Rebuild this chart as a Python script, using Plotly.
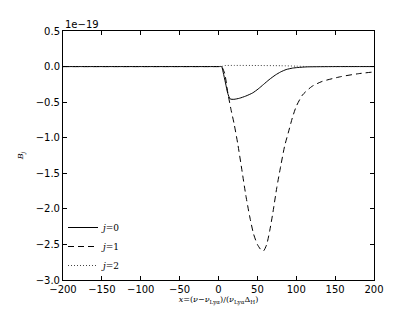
import plotly.graph_objects as go

# values in units of 1e-19
x_j0 = [-200, 0, 4, 6, 9, 12, 15, 20, 27, 35, 44, 51, 58, 65, 73, 80, 87, 95, 102, 114, 150, 200]
b_j0 = [0, 0, 0, -0.08, -0.23, -0.38, -0.455, -0.46, -0.445, -0.415, -0.37, -0.315, -0.25, -0.185,
        -0.12, -0.075, -0.042, -0.022, -0.013, -0.004, 0, 0]

x_j1 = [-200, 0, 4, 8, 12, 16, 20, 25, 30, 35, 40, 45, 50, 55, 58, 62, 66, 70, 75, 80, 85, 90, 95,
        100, 108, 120, 133, 158, 180, 200]
b_j1 = [0, 0, 0, -0.1, -0.37, -0.6, -0.8, -1.1, -1.45, -1.8, -2.1, -2.35, -2.5, -2.58, -2.59, -2.5,
        -2.3, -2.05, -1.7, -1.4, -1.12, -0.92, -0.72, -0.56, -0.4, -0.28, -0.21, -0.14, -0.1, -0.075]

x_j2 = [-200, 0, 4, 8, 20, 50, 80, 100, 115, 200]
b_j2 = [0, 0, 0, 0.014, 0.016, 0.015, 0.012, 0.006, 0, 0]

labels = ["<i>j</i>=0", "<i>j</i>=1", "<i>j</i>=2"]
yticks = [0.5, 0.0, -0.5, -1.0, -1.5, -2.0, -2.5, -3.0]
xticks = [-200, -150, -100, -50, 0, 50, 100, 150, 200]

fig = go.Figure()
for xs, ys, lab, dash, col in [(x_j0, b_j0, labels[0], "solid", "black"),
                               (x_j1, b_j1, labels[1], "6px,4px", "black"),
                               (x_j2, b_j2, labels[2], "1px,2px", "#444444")]:
    fig.add_trace(go.Scatter(x=xs, y=ys, mode="lines", name=lab,
                             line=dict(color=col, width=1, dash=dash, shape="spline", smoothing=0.6)))

def fmt(v):
    s = f"{v:.1f}"
    return s.replace("-", "−")

axis_common = dict(showline=True, linecolor="black", linewidth=1, mirror="ticks",
                   ticks="inside", ticklen=4, tickcolor="black", showgrid=False,
                   zeroline=False, tickfont=dict(family="DejaVu Sans", size=10, color="black"))

# the page body has an 8px margin, so the plot margins are shifted to compensate
fig.update_layout(
    width=415, height=312,
    margin=dict(l=44, r=49, t=23, b=40),
    paper_bgcolor="white", plot_bgcolor="white",
    xaxis=dict(range=[-200, 200], tickvals=xticks,
               ticktext=[str(v).replace("-", "−") for v in xticks],
               title=dict(text="<i>x</i>=(<i>ν</i>−<i>ν</i><sub>Lyα</sub>)/(<i>ν</i><sub>Lyα</sub>Δ<sub>H</sub>)",
                          font=dict(family="DejaVu Serif", size=8, color="black"), standoff=2),
               **axis_common),
    yaxis=dict(range=[-3.0, 0.5], tickvals=yticks, ticktext=[fmt(v) for v in yticks],
               title=dict(text="<i>B</i><sub><i>j</i></sub>",
                          font=dict(family="DejaVu Serif", size=8, color="black"), standoff=10),
               **axis_common),
    legend=dict(x=0.0, y=0.0, xanchor="left", yanchor="bottom", bgcolor="rgba(0,0,0,0)",
                font=dict(family="DejaVu Serif", size=9, color="black"), tracegroupgap=0,
                itemwidth=30),
    showlegend=True,
)
fig.add_annotation(text="1e−19", xref="paper", yref="paper", x=0, y=1, xanchor="left",
                   yanchor="bottom", showarrow=False, font=dict(family="DejaVu Sans", size=10, color="black"),
                   yshift=-1)

fig.write_html("out.html")
